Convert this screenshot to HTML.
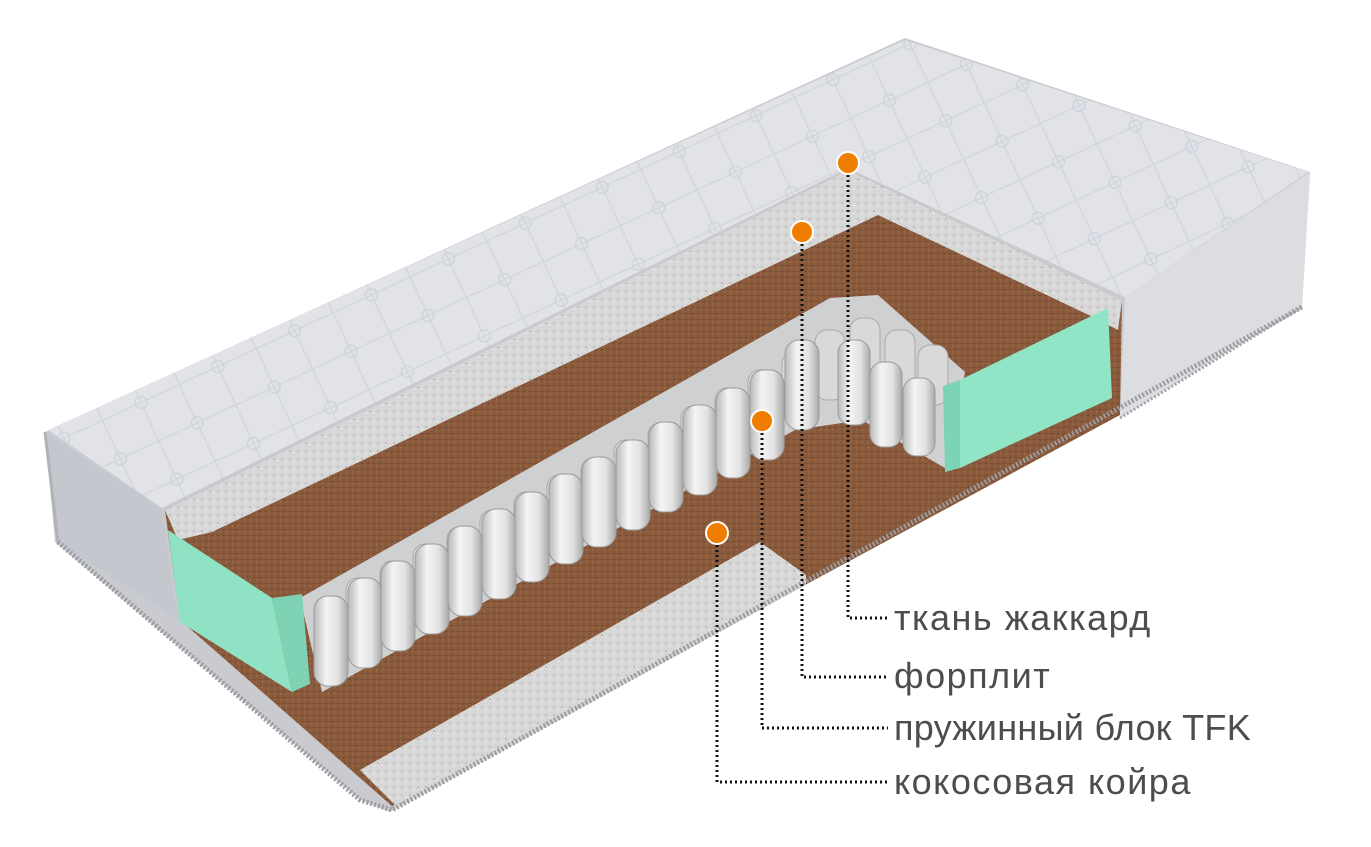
<!DOCTYPE html>
<html><head><meta charset="utf-8"><style>
html,body{margin:0;padding:0;background:#fff;}
svg{display:block;}
text{font-family:"Liberation Sans",sans-serif;}
</style></head><body>
<svg width="1371" height="847" viewBox="0 0 1371 847" xmlns="http://www.w3.org/2000/svg">
<defs>
<linearGradient id="spr" x1="0" x2="1" y1="0" y2="0">
<stop offset="0" stop-color="#b9b9b9"/><stop offset="0.35" stop-color="#f4f4f4"/><stop offset="0.7" stop-color="#e2e2e2"/><stop offset="1" stop-color="#a9a9a9"/>
</linearGradient>
<pattern id="quilt" width="60" height="60" patternUnits="userSpaceOnUse" patternTransform="rotate(20)">
<path d="M0 0 L60 60 M60 0 L0 60" stroke="#d3d6dc" stroke-width="1.5"/>
<circle cx="30" cy="30" r="6" fill="none" stroke="#d0d3da" stroke-width="1.5"/>
</pattern>
<pattern id="coco" width="6" height="6" patternUnits="userSpaceOnUse">
<rect width="6" height="6" fill="#8a5a3c"/><rect x="1" y="1" width="2" height="1" fill="#6e4329"/><rect x="4" y="3" width="1" height="2" fill="#a0704f"/>
</pattern>
<pattern id="felt" width="8" height="8" patternUnits="userSpaceOnUse">
<rect width="8" height="8" fill="#d7d7d7"/><rect x="1" y="2" width="2" height="2" fill="#bdbdbd"/><rect x="5" y="5" width="2" height="1" fill="#eeeeee"/>
</pattern>
</defs>

<polygon points="45,432 905,38 1310,172 1302,307 390,812 360,800 55,542" fill="#c9cbd0"/>
<polygon points="45,432 162,510 178,620 58,542" fill="#c4c7cd"/>
<polygon points="1125,297 1310,172 1302,307 1120,418" fill="#dcdde0"/>
<polygon points="48,430 905,40 1308,172 1125,297 848,168 162,508" fill="#e1e3e8"/>
<polygon points="48,430 905,40 1308,172 1125,297 848,168 162,508" fill="url(#quilt)"/>

<polygon points="165,510 848,170 1122,300 1120,415 805,585 392,806 180,620" fill="url(#coco)"/>
<polygon points="165,510 848,170 1122,300 1118,330 1095,318 878,215 212,532 178,540" fill="url(#felt)"/>
<polygon points="360,770 760,542 806,575 806,585 398,808" fill="url(#felt)"/>

<polygon points="300,598 830,298 878,295 965,372 945,468 862,420 795,430 322,692" fill="#cfd0d2"/>

<g fill="#d9d9d9" stroke="#aaa" stroke-width="1">
<rect x="346" y="578" width="30" height="60" rx="12"/>
<rect x="380" y="561" width="30" height="60" rx="12"/>
<rect x="413" y="544" width="30" height="60" rx="12"/>
<rect x="447" y="527" width="30" height="60" rx="12"/>
<rect x="480" y="510" width="30" height="60" rx="12"/>
<rect x="514" y="492" width="30" height="60" rx="12"/>
<rect x="547" y="475" width="30" height="60" rx="12"/>
<rect x="581" y="458" width="30" height="60" rx="12"/>
<rect x="614" y="440" width="30" height="60" rx="12"/>
<rect x="648" y="423" width="30" height="60" rx="12"/>
<rect x="681" y="406" width="30" height="60" rx="12"/>
<rect x="715" y="388" width="30" height="60" rx="12"/>
<rect x="748" y="370" width="30" height="60" rx="12"/>
<rect x="782" y="352" width="30" height="60" rx="12"/>
<rect x="815" y="330" width="30" height="70" rx="12"/>
<rect x="850" y="318" width="30" height="60" rx="12"/>
<rect x="885" y="330" width="30" height="60" rx="12"/>
<rect x="918" y="345" width="30" height="60" rx="12"/>
</g>
<g fill="url(#spr)" stroke="#9a9a9a" stroke-width="1">
<rect x="838" y="340" width="32" height="85" rx="13"/>
<rect x="870" y="362" width="32" height="85" rx="13"/>
<rect x="903" y="378" width="32" height="78" rx="13"/>
</g>
<g fill="url(#spr)" stroke="#9a9a9a" stroke-width="1">
<rect x="314" y="596" width="34" height="90" rx="14"/>
<rect x="348" y="578" width="34" height="90" rx="14"/>
<rect x="381" y="561" width="34" height="90" rx="14"/>
<rect x="415" y="544" width="34" height="90" rx="14"/>
<rect x="448" y="526" width="34" height="90" rx="14"/>
<rect x="482" y="509" width="34" height="90" rx="14"/>
<rect x="515" y="492" width="34" height="90" rx="14"/>
<rect x="549" y="474" width="34" height="90" rx="14"/>
<rect x="582" y="457" width="34" height="90" rx="14"/>
<rect x="616" y="440" width="34" height="90" rx="14"/>
<rect x="649" y="422" width="34" height="90" rx="14"/>
<rect x="683" y="405" width="34" height="90" rx="14"/>
<rect x="716" y="388" width="34" height="90" rx="14"/>
<rect x="750" y="370" width="34" height="90" rx="14"/>
<rect x="785" y="340" width="34" height="90" rx="14"/>
</g>

<polygon points="168,530 272,598 292,692 180,622" fill="#8fe2c3"/>
<polygon points="272,598 302,594 310,684 292,692" fill="#7fd3b5"/>
<polygon points="960,380 1108,308 1112,398 960,468" fill="#91e5c7"/>
<polygon points="943,386 960,380 960,468 945,472" fill="#7cd4b4"/>

<polyline points="58,542 360,800 392,810 1302,307" fill="none" stroke="#9a9ca0" stroke-width="5" stroke-dasharray="2 2"/>
<polyline points="45,432 58,542" fill="none" stroke="#b0b2b6" stroke-width="3"/>
<polyline points="1120,418 1302,307" fill="none" stroke="#a0a2a6" stroke-width="3" stroke-dasharray="2 2"/>

<g fill="none" stroke="#111" stroke-width="3" stroke-dasharray="2 3">
<polyline points="848,175 848,618 888,618"/>
<polyline points="802,244 802,677 888,677"/>
<polyline points="762,433 762,728 888,728"/>
<polyline points="717,545 717,782 888,782"/>
</g>
<g fill="#ee7d00" stroke="#fff" stroke-width="2">
<circle cx="848" cy="163" r="11"/>
<circle cx="802" cy="232" r="11"/>
<circle cx="762" cy="421" r="11"/>
<circle cx="717" cy="533" r="11"/>
</g>

<g fill="#4d4d4d" font-size="36" letter-spacing="1.5">
<text x="894" y="630">ткань жаккард</text>
<text x="894" y="688">форплит</text>
<text x="894" y="740" letter-spacing="0.3">пружинный блок TFK</text>
<text x="894" y="794">кокосовая койра</text>
</g>
</svg>
</body></html>
